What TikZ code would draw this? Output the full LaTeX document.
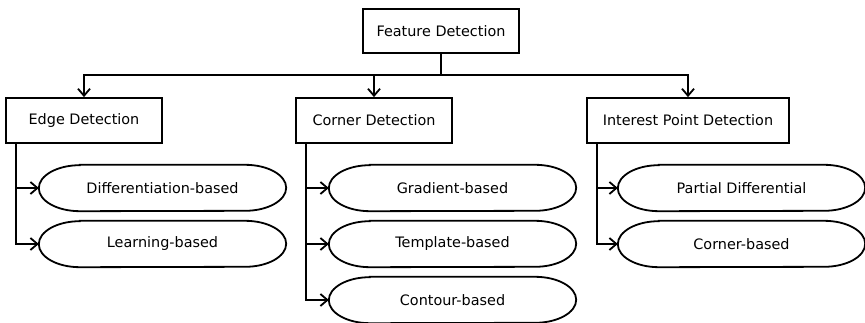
\documentclass[tikz,border=0pt]{standalone}
\usepackage{fontspec}
\setmainfont{DejaVu Sans}
\usepackage{tikz}
\usetikzlibrary{arrows.meta}
\definecolor{ink}{HTML}{000000}
\tikzset{
  tbox/.style={draw=ink, line width=1.8pt, minimum height=45pt, inner sep=0pt, text=ink},
  mtext/.style={minimum width=247pt, minimum height=46pt, inner sep=0pt, text=ink},
  pline/.style={draw=ink, line width=1.8pt},
  link/.style={draw=ink, line width=1.8pt, -{Straight Barb[length=7pt,width=12pt,line width=1.8pt]}}
}
% rounded pill drawn round a named node
\newcommand{\pill}[1]{%
  \draw[pline] ([xshift=41pt]#1.north west) -- ([xshift=-41pt]#1.north east)
    arc[start angle=90, end angle=-90, x radius=41pt, y radius=23pt]
    -- ([xshift=41pt]#1.south west)
    arc[start angle=270, end angle=90, x radius=41pt, y radius=23pt] -- cycle;}

\begin{document}
\begin{tikzpicture}[x=1pt, y=1pt, font=\fontsize{14.4}{16}\selectfont]
  \useasboundingbox (0,0) rectangle (865,-323);

  \node[tbox, minimum width=156pt, minimum height=44pt] (feat) at (441,-31) {Feature Detection};
  \node[tbox, minimum width=156pt] (edge) at (84,-120.5) {Edge Detection};
  \node[tbox, minimum width=156pt] (corner) at (374,-120.5) {Corner Detection};
  \node[tbox, minimum width=202pt] (interest) at (688,-120.5) {Interest Point Detection};
  \coordinate (bus) at (441,-75);

  \draw[link] (feat.south) -- (bus) -| (edge.north);
  \draw[link] (bus) -| (corner.north);
  \draw[link] (bus) -| (interest.north);

  % methods
  \node[mtext] (diff) at (162.5,-188) {Differentiation-based};
  \node[mtext] (learn) at (162.5,-244) {Learning-based};
  \node[mtext] (grad) at (452.5,-188) {Gradient-based};
  \node[mtext] (templ) at (452.5,-244) {Template-based};
  \node[mtext] (cont) at (452.5,-300) {Contour-based};
  \node[mtext] (pdiff) at (741.5,-188) {Partial Differential};
  \node[mtext] (cbased) at (741.5,-244) {Corner-based};
  \foreach \n in {diff,learn,grad,templ,cont,pdiff,cbased}{\pill{\n}}

  \draw[link] ([xshift=11pt]edge.south west) |- (diff.west);
  \draw[link] ([xshift=11pt]edge.south west) |- (learn.west);
  \draw[link] ([xshift=11pt]corner.south west) |- (grad.west);
  \draw[link] ([xshift=11pt]corner.south west) |- (templ.west);
  \draw[link] ([xshift=11pt]corner.south west) |- (cont.west);
  \draw[link] ([xshift=11pt]interest.south west) |- (pdiff.west);
  \draw[link] ([xshift=11pt]interest.south west) |- (cbased.west);
\end{tikzpicture}
\end{document}
